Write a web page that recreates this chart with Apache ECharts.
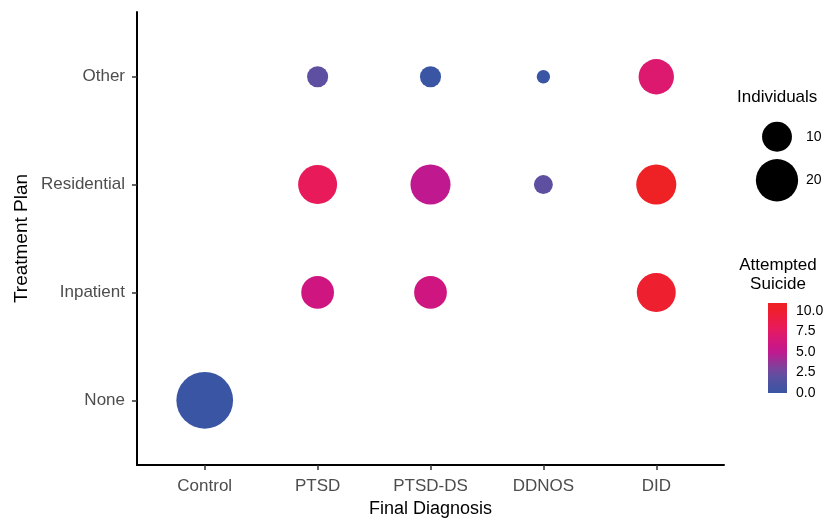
<!DOCTYPE html>
<html>
<head>
<meta charset="utf-8">
<script src="https://cdn.jsdelivr.net/npm/echarts@6/dist/echarts.min.js"></script>
<style>html,body{margin:0;padding:0;background:#fff}#c{width:825px;height:518px}</style>
</head>
<body>
<div id="c"></div>
<script>
// ---- data ----
const xCategories = ['Control', 'PTSD', 'PTSD-DS', 'DDNOS', 'DID'];
const yCategories = ['None', 'Inpatient', 'Residential', 'Other'];
const diagnosis   = ['Control', 'PTSD', 'PTSD-DS', 'DID', 'PTSD', 'PTSD-DS', 'DDNOS', 'DID', 'PTSD', 'PTSD-DS', 'DDNOS', 'DID'];
const plan        = ['None', 'Inpatient', 'Inpatient', 'Inpatient', 'Residential', 'Residential', 'Residential', 'Residential', 'Other', 'Other', 'Other', 'Other'];
const individuals = [36, 12, 12, 17, 17, 18, 4, 18, 5, 5, 2, 14];
const attempted   = [0, 6, 6, 10, 8, 5, 2, 11, 2, 0, 0, 7];
const sizeBreaks  = [10, 20];
const colorTicks  = [0, 2.5, 5, 7.5, 10];
const colorMin = 0, colorMax = 11;

// ---- styles ----
const colorScale = ['#3a55a4', '#4a52a2', '#5e4fa0', '#7b449c', '#9d2e96', '#c0198f',
                    '#cf1680', '#dc196e', '#e81a5a', '#ec1c44', '#ee1f2e', '#ee2125'];
const sizeOf = n => 9.45 * Math.sqrt(n);
const FONT = 'Liberation Sans, Arial, sans-serif';

const points = individuals.map((n, i) => [
  xCategories.indexOf(diagnosis[i]), yCategories.indexOf(plan[i]), n, attempted[i]
]);
const xIdx = xCategories.map((_, i) => i);
const yIdx = yCategories.map((_, i) => i);

const chart = echarts.init(document.getElementById('c'), null, {renderer: 'canvas'});
const gradStops = colorScale.map((c, i) => ({offset: i / (colorScale.length - 1), color: c}));

chart.setOption({
  animation: false,
  backgroundColor: '#fff',
  textStyle: {fontFamily: FONT},
  title: [
    {text: 'Individuals', left: 737, top: 89, padding: 0,
     textStyle: {fontSize: 17, fontWeight: 'normal', color: '#000', fontFamily: FONT}},
    {text: 'Attempted\nSuicide', left: 778, top: 256, padding: 0, textAlign: 'center',
     textStyle: {fontSize: 17, fontWeight: 'normal', color: '#000', lineHeight: 19, fontFamily: FONT}}
  ],
  grid: [
    {left: 137, top: 12, width: 587, height: 453, outerBoundsMode: 'none', containLabel: false},
    {left: 768, top: 303, width: 19, height: 90, outerBoundsMode: 'none', containLabel: false},
    {left: 757, top: 115, width: 40, height: 87, outerBoundsMode: 'none', containLabel: false}
  ],
  xAxis: [
    {gridIndex: 0, type: 'value', min: -0.6, max: xCategories.length - 0.4,
     name: 'Final Diagnosis', nameLocation: 'middle', nameGap: 35, nameMoveOverlap: false,
     nameTextStyle: {fontSize: 18, color: '#000', fontFamily: FONT},
     axisLine: {onZero: false, lineStyle: {color: '#000', width: 2}},
     axisTick: {customValues: xIdx, length: 5, lineStyle: {color: '#333', width: 1.5}},
     axisLabel: {customValues: xIdx, formatter: v => xCategories[Math.round(v)],
                 fontSize: 17, color: '#4d4d4d', margin: 13, fontFamily: FONT},
     splitLine: {show: false}},
    {gridIndex: 1, type: 'category', data: ['cb'], show: false},
    {gridIndex: 2, type: 'category', data: ['k'], show: false}
  ],
  yAxis: [
    {gridIndex: 0, type: 'value', min: -0.6, max: yCategories.length - 0.4,
     name: 'Treatment Plan', nameLocation: 'middle', nameGap: 106, nameMoveOverlap: false,
     nameTextStyle: {fontSize: 19, color: '#000', fontFamily: FONT},
     axisLine: {onZero: false, lineStyle: {color: '#000', width: 2}},
     axisTick: {customValues: yIdx, length: 5, lineStyle: {color: '#333', width: 1.5}},
     axisLabel: {customValues: yIdx, formatter: v => yCategories[Math.round(v)],
                 fontSize: 17, color: '#4d4d4d', margin: 12, fontFamily: FONT},
     splitLine: {show: false}},
    {gridIndex: 1, type: 'value', position: 'right', min: colorMin, max: colorMax, z: 10,
     axisLine: {show: false},
     axisTick: {customValues: colorTicks, inside: true, length: 4, lineStyle: {color: '#fff', width: 1}},
     axisLabel: {customValues: colorTicks, formatter: v => Number(v).toFixed(1),
                 fontSize: 14, color: '#000', margin: 9, fontFamily: FONT},
     splitLine: {show: false}},
    {gridIndex: 1, type: 'value', position: 'left', min: colorMin, max: colorMax, z: 10,
     axisLine: {show: false},
     axisTick: {customValues: colorTicks, inside: true, length: 4, lineStyle: {color: '#fff', width: 1}},
     axisLabel: {show: false}, splitLine: {show: false}},
    {gridIndex: 2, type: 'category', data: sizeBreaks.map(String), inverse: true, position: 'right',
     axisLine: {show: false}, axisTick: {show: false},
     axisLabel: {fontSize: 14, color: '#000', margin: 9, fontFamily: FONT}}
  ],
  visualMap: {
    show: false, type: 'continuous', seriesIndex: 0, dimension: 3,
    min: colorMin, max: colorMax, inRange: {color: colorScale}
  },
  series: [
    {type: 'scatter', xAxisIndex: 0, yAxisIndex: 0, data: points,
     symbolSize: v => sizeOf(v[2]), itemStyle: {opacity: 1}},
    {type: 'bar', xAxisIndex: 1, yAxisIndex: 1, data: [colorMax], barWidth: '100%',
     itemStyle: {color: new echarts.graphic.LinearGradient(0, 1, 0, 0, gradStops)}, silent: true},
    {type: 'scatter', xAxisIndex: 2, yAxisIndex: 3,
     data: sizeBreaks.map(v => ['k', String(v), v]),
     symbolSize: v => sizeOf(v[2]), itemStyle: {color: '#000', opacity: 1}}
  ]
});
</script>
</body>
</html>
